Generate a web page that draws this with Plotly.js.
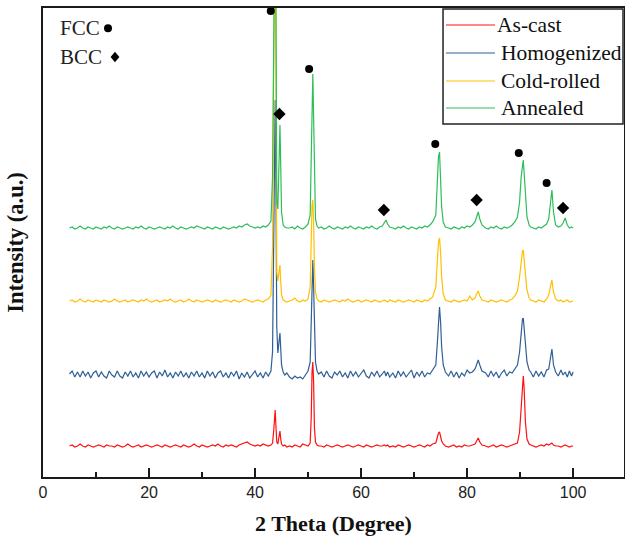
<!DOCTYPE html>
<html><head><meta charset="utf-8">
<script src="https://cdn.plot.ly/plotly-3.0.1.min.js"></script>
<style>html,body{margin:0;padding:0;background:#fff}#chart{width:625px;height:536px}</style>
</head><body><div id="chart"></div>
<script>
// 2-theta grid (degrees)
const twoTheta = [
5,5.5,6,6.5,7,7.5,8,8.5,9,9.5,
10,10.5,11,11.5,12,12.5,13,13.5,14,14.5,
15,15.5,16,16.5,17,17.5,18,18.5,19,19.5,
20,20.5,21,21.5,22,22.5,23,23.5,24,24.5,
25,25.5,26,26.5,27,27.5,28,28.5,29,29.5,
30,30.5,31,31.5,32,32.5,33,33.5,34,34.5,
35,35.5,36,36.5,37,37.5,38,38.5,39,39.5,
40,40.5,41,41.5,42,42.5,
43,43.3,43.5,43.65,43.8,43.95,44.1,44.3,44.5,44.7,44.85,45,45.3,45.6,46,
46.5,47,47.5,48,48.5,49,49.5,50,
50.4,50.6,50.75,50.9,51.05,51.2,51.4,51.7,52,
52.5,53,53.5,54,54.5,55,55.5,56,56.5,57,57.5,58,58.5,59,59.5,60,60.5,61,61.5,62,62.5,63,63.5,
64,64.4,64.7,65,65.4,
66,66.5,67,67.5,68,68.5,69,69.5,70,70.5,71,71.5,72,72.5,73,73.5,
74.1,74.4,74.6,74.8,75,75.2,75.5,75.9,
76.5,77,77.5,78,78.5,79,79.5,80,80.5,81,
81.5,81.8,82.1,82.4,82.8,
83.5,84,84.5,85,85.5,86,86.5,87,87.5,88,88.5,89,
89.5,89.9,90.2,90.45,90.6,90.75,91,91.3,91.7,
92,92.5,93,93.5,94,94.5,95,
95.4,95.7,96,96.3,96.7,
97.2,97.7,98.1,98.5,98.9,99.3,99.7,100
];

// Intensities (a.u., stacked patterns)
const asCast = [
31,32,30,31,33,31,30,32,31,30,
31,32,31,30,32,31,31,30,32,31,
30,31,33,31,30,31,32,30,31,32,
31,30,31,32,31,30,32,31,30,31,
32,31,30,32,31,30,31,33,31,30,
32,31,30,31,32,31,33,31,30,32,
31,32,31,30,32,33,34,35,33,32,
31,32,31,33,32,31,
32,34,45,62,67,50,35,33,40,46,38,33,31,32,30,
31,30,32,31,30,33,32,31,
34,60,105,115,95,50,35,32,31,
31,30,32,31,30,31,32,31,30,31,32,31,30,31,32,31,30,32,31,30,31,32,31,
31,32,31,32,30,
31,30,32,31,30,31,32,31,30,31,32,31,30,32,31,33,
34,40,44,45,41,36,33,31,
30,31,32,30,31,30,32,31,31,32,
33,36,39,35,32,
31,30,31,32,30,31,32,31,30,31,32,33,
34,45,70,96,101,90,55,38,33,
32,31,30,31,32,31,33,
32,33,34,32,31,
31,30,31,32,31,30,31,31
];

const homogenized = [
103,106,100,105,100,106,101,105,99,104,
106,100,105,101,99,106,102,100,106,101,
99,105,101,106,100,104,99,106,101,105,
100,104,106,99,105,101,107,100,104,99,
105,101,106,100,104,99,105,101,106,100,
104,99,106,101,105,99,104,106,100,104,
99,105,101,106,98,104,100,105,99,103,
106,100,104,99,105,101,
106,125,230,350,377,280,150,124,135,144,128,112,105,102,104,
100,98,101,99,100,98,102,106,
115,170,210,217,190,140,115,106,103,
105,100,106,101,99,105,102,106,100,104,99,106,101,105,100,104,107,101,99,105,101,106,100,
103,106,101,105,100,
104,99,106,101,105,100,104,107,99,105,101,106,100,104,103,107,
112,135,162,170,155,130,112,105,
101,106,100,105,99,104,101,107,104,105,
108,113,117,112,106,
104,100,106,101,105,99,104,107,101,105,104,108,
112,125,145,158,159,150,130,115,107,
105,100,106,101,105,100,107,
108,118,128,112,105,
101,107,102,105,100,106,101,105
];

const coldRolled = [
176,177,175,176,178,176,175,177,176,175,
177,176,175,177,176,175,176,178,176,175,
176,177,175,176,177,176,175,177,176,178,
176,175,176,177,175,176,177,176,178,176,
175,176,177,175,176,178,176,175,177,176,
175,176,177,176,175,177,176,175,176,177,
176,175,177,176,175,176,178,177,176,175,
176,177,176,175,177,178,
182,230,400,520,560,420,205,196,205,212,195,182,177,176,175,
176,177,179,176,175,177,176,178,
190,240,272,277,255,210,185,178,176,
175,177,176,175,176,177,176,175,177,176,178,176,175,176,177,175,176,177,176,175,177,176,175,
176,177,176,175,177,
176,175,177,176,175,176,177,176,175,177,176,175,177,176,178,180,
190,215,235,239,225,200,183,177,
176,175,177,176,175,176,177,176,181,177,
179,183,186,181,177,
176,175,177,176,175,176,177,176,175,177,178,181,
186,200,218,226,227,220,203,187,179,
177,176,175,177,176,175,178,
182,190,197,185,178,
176,177,175,176,177,175,176,176
];

const annealed = [
249,250,248,249,251,249,248,250,249,248,
250,249,248,250,249,251,249,248,250,249,
248,249,250,249,248,250,249,251,249,248,
250,249,248,249,250,249,248,250,249,251,
249,248,250,249,248,249,250,249,251,250,
249,248,250,249,248,250,249,248,250,249,
248,249,250,249,251,250,252,253,251,250,
249,250,249,251,250,252,
256,300,430,540,600,470,275,268,330,352,310,265,252,250,249,
249,250,248,251,249,248,250,253,
262,320,390,403,360,290,258,251,249,
250,248,249,251,249,248,250,249,248,250,249,251,249,248,250,249,248,250,249,251,249,248,250,
251,254,257,253,250,
249,248,250,249,251,249,248,250,249,248,250,249,251,250,252,255,
262,290,320,325,300,270,255,250,
249,248,250,249,248,250,249,251,250,252,
255,260,265,258,252,
249,248,250,249,251,249,248,250,249,250,252,255,
260,275,300,315,317,305,280,260,252,
250,249,248,250,249,251,253,
258,272,287,265,252,
250,251,254,259,252,249,250,249
];

const seriesNames = ['As-cast', 'Homogenized', 'Cold-rolled', 'Annealed'];
const seriesColors = ['#FF1010', '#2E5F97', '#FFC000', '#2EBD59'];

// Phase indexing marks (peak labels)
const fccTheta = [42.96, 50.2, 74.0, 89.75, 95.0];
const fccLevel = [466, 408, 333, 324, 294];
const bccTheta = [44.6, 64.3, 81.8, 98.1];
const bccLevel = [363, 267, 277, 269];

const seriesData = [asCast, homogenized, coldRolled, annealed];
const traces = seriesData.map((y, i) => ({
  type: 'scatter', mode: 'lines', x: twoTheta, y: y, name: seriesNames[i],
  line: {color: seriesColors[i], width: 1.2}, hoverinfo: 'skip', showlegend: false
}));
traces.push({type: 'scatter', mode: 'markers', x: fccTheta, y: fccLevel, name: 'FCC', showlegend: false,
  cliponaxis: false, hoverinfo: 'skip', marker: {symbol: 'circle', size: 8, color: '#000'}});
traces.push({type: 'scatter', mode: 'markers', x: bccTheta, y: bccLevel, name: 'BCC', showlegend: false,
  cliponaxis: false, hoverinfo: 'skip', marker: {symbol: 'diamond', size: 9.5, color: '#000'}});

// Legend box (drawn in plot-fraction coordinates)
const serif = 'Liberation Serif, Times New Roman, serif';
const legendRows = [0.9638, 0.9041, 0.8443, 0.7868];
const legendTextX = [0.7785, 0.7855, 0.7855, 0.7855];
const shapes = [
  {type: 'rect', xref: 'paper', yref: 'paper', x0: 0.6885, x1: 0.9983, y0: 0.7527, y1: 0.9979,
   fillcolor: '#fff', line: {color: '#222', width: 1.5}},
  {type: 'circle', xref: 'paper', yref: 'paper', xsizemode: 'pixel', ysizemode: 'pixel',
   xanchor: 0.1119, yanchor: 0.957, x0: -4, x1: 4, y0: -4, y1: 4, fillcolor: '#000', line: {width: 0}},
  {type: 'path', xref: 'paper', yref: 'paper', xsizemode: 'pixel', ysizemode: 'pixel',
   xanchor: 0.1239, yanchor: 0.8955, path: 'M0,5.2L4.4,0L0,-5.2L-4.4,0Z', fillcolor: '#000', line: {width: 0}}
];
const annotations = [
  {xref: 'paper', yref: 'paper', x: 0.025, y: 0.957, xanchor: 'left', yanchor: 'middle', showarrow: false,
   text: 'FCC', font: {family: serif, size: 21, color: '#222'}},
  {xref: 'paper', yref: 'paper', x: 0.025, y: 0.8955, xanchor: 'left', yanchor: 'middle', showarrow: false,
   text: 'BCC', font: {family: serif, size: 21, color: '#222'}}
];
seriesNames.forEach((nm, i) => {
  shapes.push({type: 'line', xref: 'paper', yref: 'paper', x0: 0.6936, x1: 0.778,
    y0: legendRows[i], y1: legendRows[i], line: {color: seriesColors[i], width: 1.2}});
  annotations.push({xref: 'paper', yref: 'paper', x: legendTextX[i], y: legendRows[i], xanchor: 'left',
    yanchor: 'middle', showarrow: false, text: nm, font: {family: serif, size: 21.5, color: '#111'}});
});

const axisColor = '#1a1a1a';
const layout = {
  width: 625, height: 536,
  margin: {l: 43, r: 1, t: 8, b: 59},
  paper_bgcolor: '#fff', plot_bgcolor: '#fff',
  showlegend: false,
  xaxis: {range: [0, 109.6], showline: true, linecolor: axisColor, linewidth: 2, mirror: true,
    ticks: 'inside', ticklen: 9, tickwidth: 1.5, tickcolor: axisColor, tick0: 0, dtick: 20,
    minor: {ticks: 'inside', ticklen: 5, tickwidth: 1.5, tickcolor: axisColor, dtick: 10, showgrid: false},
    showgrid: false, zeroline: false,
    tickfont: {family: 'Liberation Sans, Arial, sans-serif', size: 16, color: '#222'},
    title: {text: '<b>2 Theta (Degree)</b>', font: {family: serif, size: 22, color: '#111'}, standoff: 15}},
  yaxis: {range: [0, 469], showline: true, linecolor: axisColor, linewidth: 2, mirror: true,
    ticks: '', showticklabels: false, showgrid: false, zeroline: false,
    title: {text: '<b>Intensity (a.u.)</b>', font: {family: serif, size: 22.5, color: '#111'}, standoff: 11}},
  annotations: annotations,
  shapes: shapes
};

Plotly.newPlot('chart', traces, layout, {displayModeBar: false, staticPlot: true});
</script>
</body></html>
